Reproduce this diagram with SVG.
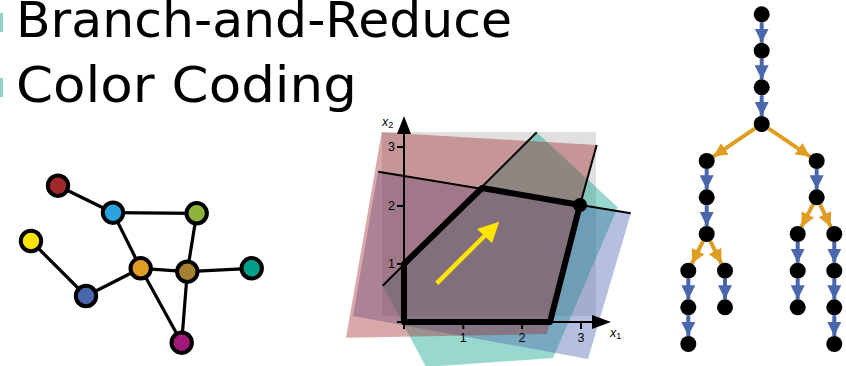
<svg xmlns="http://www.w3.org/2000/svg" width="846" height="366" viewBox="0 0 846 366">
<defs>
<style>
.title{font-family:"DejaVu Sans",Verdana,sans-serif;font-size:50px;fill:#000}
.ax{font-family:"Liberation Sans",Arial,sans-serif;font-size:12.5px;fill:#000}
.gedge{stroke:#000;stroke-width:3.2;fill:none}
.gnode{stroke:#000;stroke-width:4}
.tnode{fill:#000}
.blue{stroke:#4a67ad;stroke-width:4;fill:none;marker-end:url(#hb)}
.orange{stroke:#e09d24;stroke-width:4;fill:none;marker-end:url(#ho)}
.thin{stroke:#000;stroke-width:2;fill:none}
</style>
<marker id="hb" markerUnits="userSpaceOnUse" markerWidth="14" markerHeight="14" refX="14" refY="7" orient="auto" viewBox="0 0 14 14"><path d="M0,0 L14,7 L0,14 z" fill="#4a67ad"/></marker>
<marker id="ho" markerUnits="userSpaceOnUse" markerWidth="14" markerHeight="14" refX="14" refY="7" orient="auto" viewBox="0 0 14 14"><path d="M0,0 L14,7 L0,14 z" fill="#e09d24"/></marker>
</defs>
<rect width="846" height="366" fill="#fff"/>

<g id="titles">
<rect x="0" y="13" width="3" height="19" fill="#8fd3c8"/>
<rect x="0" y="78" width="3" height="19" fill="#8fd3c8"/>
<text class="title" x="16" y="37" textLength="496" lengthAdjust="spacingAndGlyphs">Branch-and-Reduce</text>
<text class="title" x="16" y="102" textLength="341" lengthAdjust="spacingAndGlyphs">Color Coding</text>
</g>

<g id="graph-edges">
<line class="gedge" x1="58" y1="185.7" x2="113" y2="212.7"/>
<line class="gedge" x1="113" y1="212.7" x2="196.7" y2="213.3"/>
<line class="gedge" x1="113" y1="212.7" x2="140.7" y2="268.3"/>
<line class="gedge" x1="31" y1="241" x2="86" y2="296"/>
<line class="gedge" x1="86" y1="296" x2="140.7" y2="268.3"/>
<line class="gedge" x1="140.7" y1="268.3" x2="187.3" y2="271.7"/>
<line class="gedge" x1="187.3" y1="271.7" x2="196.7" y2="213.3"/>
<line class="gedge" x1="187.3" y1="271.7" x2="251.7" y2="268.3"/>
<line class="gedge" x1="140.7" y1="268.3" x2="181.7" y2="342.7"/>
<line class="gedge" x1="187.3" y1="271.7" x2="181.7" y2="342.7"/>
</g>
<g id="gn-red"><circle class="gnode" cx="58" cy="185.7" r="10.2" fill="#a02828"/></g>
<g id="gn-lightblue"><circle class="gnode" cx="113" cy="212.7" r="10.2" fill="#29a3dd"/></g>
<g id="gn-green"><circle class="gnode" cx="196.7" cy="213.3" r="10.2" fill="#8db53c"/></g>
<g id="gn-yellow"><circle class="gnode" cx="31" cy="241" r="10.2" fill="#ffe500"/></g>
<g id="gn-orange"><circle class="gnode" cx="140.7" cy="268.3" r="10.2" fill="#e09d24"/></g>
<g id="gn-brown"><circle class="gnode" cx="187.3" cy="271.7" r="10.2" fill="#a48030"/></g>
<g id="gn-teal"><circle class="gnode" cx="251.7" cy="268.3" r="10.2" fill="#009e87"/></g>
<g id="gn-darkblue"><circle class="gnode" cx="86" cy="296" r="10.2" fill="#4a67ad"/></g>
<g id="gn-magenta"><circle class="gnode" cx="181.7" cy="342.7" r="10.2" fill="#a0197a"/></g>

<g id="lp">
<rect x="382" y="132" width="214" height="184" fill="#e0e0e0"/>
<polygon points="382.7,285.7 536.7,132.3 617.7,207.3 553,358 426,367" fill="#009e87" fill-opacity="0.4"/>
<polygon points="378,171 631,213 588,359 353,316" fill="#4a67ad" fill-opacity="0.41"/>
<polygon points="381.7,132.3 596.7,145 547,334 346,337.7" fill="#a02828" fill-opacity="0.4"/>
<line class="thin" x1="382.7" y1="285.7" x2="536.7" y2="132.3"/>
<line class="thin" x1="378.3" y1="171.7" x2="630.7" y2="213.3"/>
<line class="thin" x1="596.7" y1="145" x2="580" y2="205"/>
<line x1="404" y1="329" x2="404" y2="132" stroke="#000" stroke-width="2"/>
<polygon points="397,134 411,134 404,116" fill="#000"/>
<line x1="397" y1="322" x2="594" y2="322" stroke="#000" stroke-width="2"/>
<polygon points="592,315 592,329 611,322" fill="#000"/>
<path d="M397,147H404M397,206H404M397,264H404M463.3,322V329M522,322V329M581,322V329" stroke="#000" stroke-width="2"/>
<text class="ax" x="395" y="151" text-anchor="end">3</text>
<text class="ax" x="395" y="210" text-anchor="end">2</text>
<text class="ax" x="395" y="268" text-anchor="end">1</text>
<text class="ax" x="463.3" y="342" text-anchor="middle">1</text>
<text class="ax" x="522" y="342" text-anchor="middle">2</text>
<text class="ax" x="581" y="342" text-anchor="middle">3</text>
<text class="ax" x="382" y="126" font-style="italic">x<tspan font-size="9" font-style="normal" dy="2">2</tspan></text>
<text class="ax" x="610" y="337" font-style="italic">x<tspan font-size="9" font-style="normal" dy="2">1</tspan></text>
<polygon points="404,322 404,264 482,188 580,205 550,322" fill="none" stroke="#000" stroke-width="6" stroke-linejoin="round"/>
<circle cx="580" cy="205" r="7" fill="#000"/>
<line x1="436.7" y1="283.3" x2="486" y2="234.5" stroke="#ffe500" stroke-width="4.5"/>
<polygon points="499.3,221.7 477,229 492,243" fill="#ffe500"/>
</g>

<g id="tree-edges">
<line class="blue" x1="761.7" y1="22.3" x2="761.7" y2="42.7"/>
<line class="blue" x1="761.7" y1="58.7" x2="761.7" y2="79.3"/>
<line class="blue" x1="761.7" y1="95.3" x2="761.7" y2="116"/>
<line class="orange" x1="755.06" y1="128.46" x2="713.34" y2="156.54"/>
<line class="orange" x1="768.34" y1="128.46" x2="810.06" y2="156.54"/>
<line class="blue" x1="706.7" y1="169" x2="706.7" y2="189.3"/>
<line class="blue" x1="706.7" y1="205.3" x2="706.7" y2="226"/>
<line class="orange" x1="703.11" y1="241.15" x2="691.89" y2="263.55"/>
<line class="orange" x1="710.29" y1="241.15" x2="721.43" y2="263.55"/>
<line class="blue" x1="688.3" y1="278.7" x2="688.3" y2="299.3"/>
<line class="blue" x1="688.3" y1="315.3" x2="688.3" y2="336"/>
<line class="blue" x1="725" y1="278.7" x2="725" y2="299.3"/>
<line class="blue" x1="816.7" y1="169" x2="816.7" y2="189.3"/>
<line class="orange" x1="813.02" y1="204.4" x2="801.38" y2="226.9"/>
<line class="orange" x1="820.16" y1="204.52" x2="830.84" y2="226.78"/>
<line class="blue" x1="797.7" y1="242" x2="797.7" y2="262.7"/>
<line class="blue" x1="797.7" y1="278.7" x2="797.7" y2="299.3"/>
<line class="blue" x1="834.3" y1="242" x2="834.3" y2="262.7"/>
<line class="blue" x1="834.3" y1="278.7" x2="834.3" y2="299.3"/>
<line class="blue" x1="834.3" y1="315.3" x2="834.3" y2="336"/>
</g>
<g id="tn1"><circle class="tnode" cx="761.7" cy="14.3" r="8"/></g>
<g id="tn2"><circle class="tnode" cx="761.7" cy="50.7" r="8"/></g>
<g id="tn3"><circle class="tnode" cx="761.7" cy="87.3" r="8"/></g>
<g id="tn4"><circle class="tnode" cx="761.7" cy="124" r="8"/></g>
<g id="tn5"><circle class="tnode" cx="706.7" cy="161" r="8"/></g>
<g id="tn6"><circle class="tnode" cx="706.7" cy="197.3" r="8"/></g>
<g id="tn7"><circle class="tnode" cx="706.7" cy="234" r="8"/></g>
<g id="tn8"><circle class="tnode" cx="688.3" cy="270.7" r="8"/></g>
<g id="tn9"><circle class="tnode" cx="688.3" cy="307.3" r="8"/></g>
<g id="tn10"><circle class="tnode" cx="688.3" cy="344" r="8"/></g>
<g id="tn11"><circle class="tnode" cx="725" cy="270.7" r="8"/></g>
<g id="tn12"><circle class="tnode" cx="725" cy="307.3" r="8"/></g>
<g id="tn13"><circle class="tnode" cx="816.7" cy="161" r="8"/></g>
<g id="tn14"><circle class="tnode" cx="816.7" cy="197.3" r="8"/></g>
<g id="tn15"><circle class="tnode" cx="797.7" cy="234" r="8"/></g>
<g id="tn16"><circle class="tnode" cx="797.7" cy="270.7" r="8"/></g>
<g id="tn17"><circle class="tnode" cx="797.7" cy="307.3" r="8"/></g>
<g id="tn18"><circle class="tnode" cx="834.3" cy="234" r="8"/></g>
<g id="tn19"><circle class="tnode" cx="834.3" cy="270.7" r="8"/></g>
<g id="tn20"><circle class="tnode" cx="834.3" cy="307.3" r="8"/></g>
<g id="tn21"><circle class="tnode" cx="834.3" cy="344" r="8"/></g>
</svg>
